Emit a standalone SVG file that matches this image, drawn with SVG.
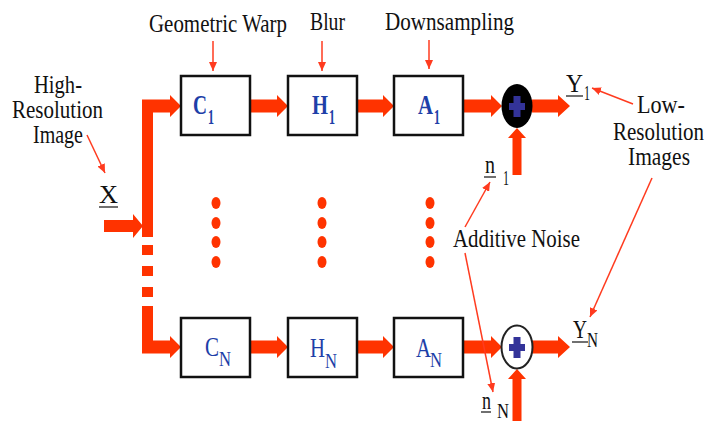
<svg xmlns="http://www.w3.org/2000/svg" width="707" height="421" viewBox="0 0 707 421" font-family="'Liberation Serif', 'DejaVu Serif', serif">
<style>
.t{font-family:'Liberation Serif','DejaVu Serif',serif;font-size:26px;fill:#111;}
.s{font-family:'Liberation Serif','DejaVu Serif',serif;font-size:20px;fill:#111;}
.b{font-family:'Liberation Serif','DejaVu Serif',serif;font-size:27px;fill:#1E3FA8;font-weight:bold;}
.bs{font-family:'Liberation Serif','DejaVu Serif',serif;font-size:22px;fill:#1E3FA8;font-weight:bold;}
.n{font-family:'Liberation Serif','DejaVu Serif',serif;font-size:27px;fill:#1E3FA8;}
.ns{font-family:'Liberation Serif','DejaVu Serif',serif;font-size:22px;fill:#1E3FA8;}
.box{fill:#fff;stroke:#111;stroke-width:2.5;}
.thick{fill:#FF3300;}
.thin{stroke:#FF3B1F;stroke-width:1.5;fill:none;marker-end:url(#ah);}
.ul{stroke:#111;stroke-width:1.2;}
.dot{fill:#FF3300;}
.plus{fill:#333399;}
</style>
<defs>
<marker id="ah" markerUnits="userSpaceOnUse" markerWidth="10" markerHeight="8" refX="9" refY="4" orient="auto">
<path d="M0,0 L9,4 L0,8 Z" fill="#FF3B1F"/>
</marker>
</defs>

<g id="connectors">
<path class="thick" d="M142,99.5 H170 V95 L181,106 L170,117 V112.5 H153 V237 H142 Z"/>
<rect class="thick" x="142" y="245" width="11" height="10"/>
<rect class="thick" x="142" y="266" width="11" height="10"/>
<rect class="thick" x="142" y="287" width="11" height="10"/>
<path class="thick" d="M142,306 H153 V340.5 H170 V336 L181,347 L170,358 V353.5 H142 Z"/>
<path class="thick" d="M104,220 H133 V214 L143,226 L133,238 V232 H104 Z"/>
<path class="thick" d="M250,99.5 H277 V95 L288,106 L277,117 V112.5 H250 Z"/>
<path class="thick" d="M357,99.5 H383 V95 L394,106 L383,117 V112.5 H357 Z"/>
<path class="thick" d="M463,99.5 H491 V95 L502,106 L491,117 V112.5 H463 Z"/>
<path class="thick" d="M532,99.5 H558 V95 L570,106 L558,117 V112.5 H532 Z"/>
<path class="thick" d="M250,340.5 H277 V336 L288,347 L277,358 V353.5 H250 Z"/>
<path class="thick" d="M357,340.5 H383 V336 L394,347 L383,358 V353.5 H357 Z"/>
<path class="thick" d="M463,340.5 H491 V336 L502,347 L491,358 V353.5 H463 Z"/>
<path class="thick" d="M532,340.5 H558 V336 L570,347 L558,358 V353.5 H532 Z"/>
<path class="thick" d="M512.5,175 V138 H508 L517,128 L526,138 H521.5 V175 Z"/>
<path class="thick" d="M512.5,421 V379 H508 L517,369 L526,379 H521.5 V421 Z"/>
<line class="thin" x1="213" y1="41" x2="213" y2="71"/>
<line class="thin" x1="322" y1="41" x2="322" y2="71"/>
<line class="thin" x1="429" y1="40" x2="429" y2="69"/>
<line class="thin" x1="87" y1="135" x2="105" y2="173"/>
<line class="thin" x1="633" y1="104" x2="592" y2="88"/>
<line class="thin" x1="652" y1="178" x2="590" y2="317"/>
<line class="thin" x1="465" y1="227" x2="490" y2="182"/>
<line class="thin" x1="465" y1="253" x2="493" y2="392"/>
</g>

<g id="dots">
<ellipse class="dot" cx="216" cy="203" rx="4.5" ry="6"/>
<ellipse class="dot" cx="216" cy="223" rx="4.5" ry="6"/>
<ellipse class="dot" cx="216" cy="242" rx="4.5" ry="6"/>
<ellipse class="dot" cx="216" cy="262" rx="4.5" ry="6"/>
<ellipse class="dot" cx="322" cy="203" rx="4.5" ry="6"/>
<ellipse class="dot" cx="322" cy="223" rx="4.5" ry="6"/>
<ellipse class="dot" cx="322" cy="242" rx="4.5" ry="6"/>
<ellipse class="dot" cx="322" cy="262" rx="4.5" ry="6"/>
<ellipse class="dot" cx="430" cy="203" rx="4.5" ry="6"/>
<ellipse class="dot" cx="430" cy="223" rx="4.5" ry="6"/>
<ellipse class="dot" cx="430" cy="242" rx="4.5" ry="6"/>
<ellipse class="dot" cx="430" cy="262" rx="4.5" ry="6"/>
</g>

<g id="C1"><rect class="box" x="181" y="76" width="69" height="59"/>
<text class="b" x="193" y="114" textLength="14" lengthAdjust="spacingAndGlyphs">C</text>
<text class="bs" x="208" y="124" textLength="6" lengthAdjust="spacingAndGlyphs">1</text></g>
<g id="H1"><rect class="box" x="288" y="76" width="69" height="59"/>
<text class="b" x="312" y="114" textLength="16" lengthAdjust="spacingAndGlyphs">H</text>
<text class="bs" x="329" y="124" textLength="6" lengthAdjust="spacingAndGlyphs">1</text></g>
<g id="A1"><rect class="box" x="394" y="76" width="69" height="59"/>
<text class="b" x="418" y="114" textLength="15" lengthAdjust="spacingAndGlyphs">A</text>
<text class="bs" x="434" y="124" textLength="6" lengthAdjust="spacingAndGlyphs">1</text></g>
<g id="S1"><ellipse cx="517" cy="106" rx="15.5" ry="22" fill="#000"/>
<rect class="plus" x="513.5" y="96" width="7" height="21"/>
<rect class="plus" x="509" y="103" width="16" height="7"/></g>

<g id="CN"><rect class="box" x="181" y="318" width="69" height="59"/>
<text class="n" x="205" y="356" textLength="14" lengthAdjust="spacingAndGlyphs">C</text>
<text class="ns" x="219" y="366" textLength="12" lengthAdjust="spacingAndGlyphs">N</text></g>
<g id="HN"><rect class="box" x="288" y="318" width="69" height="59"/>
<text class="n" x="310" y="357" textLength="15" lengthAdjust="spacingAndGlyphs">H</text>
<text class="ns" x="325" y="368" textLength="12" lengthAdjust="spacingAndGlyphs">N</text></g>
<g id="AN"><rect class="box" x="394" y="318" width="69" height="59"/>
<text class="n" x="416" y="357" textLength="15" lengthAdjust="spacingAndGlyphs">A</text>
<text class="ns" x="430" y="367" textLength="12" lengthAdjust="spacingAndGlyphs">N</text></g>
<g id="SN"><ellipse cx="517" cy="347" rx="15.5" ry="21.5" fill="#fff" stroke="#222" stroke-width="2"/>
<rect class="plus" x="513.5" y="337" width="7" height="21"/>
<rect class="plus" x="509" y="344" width="16" height="7"/></g>

<g id="labels">
<text class="t" x="149" y="32" textLength="138" lengthAdjust="spacingAndGlyphs">Geometric Warp</text>
<text class="t" x="310" y="30" textLength="35" lengthAdjust="spacingAndGlyphs">Blur</text>
<text class="t" x="385" y="30" textLength="129" lengthAdjust="spacingAndGlyphs">Downsampling</text>
<text class="t" x="34" y="93" textLength="48" lengthAdjust="spacingAndGlyphs">High-</text>
<text class="t" x="12" y="118" textLength="91" lengthAdjust="spacingAndGlyphs">Resolution</text>
<text class="t" x="33" y="143" textLength="50" lengthAdjust="spacingAndGlyphs">Image</text>
<text class="t" x="637" y="113" textLength="48" lengthAdjust="spacingAndGlyphs">Low-</text>
<text class="t" x="613" y="140" textLength="91" lengthAdjust="spacingAndGlyphs">Resolution</text>
<text class="t" x="628" y="165" textLength="62" lengthAdjust="spacingAndGlyphs">Images</text>
<text class="t" x="453" y="247" textLength="127" lengthAdjust="spacingAndGlyphs">Additive Noise</text>
<text class="t" x="99" y="203" textLength="19" lengthAdjust="spacingAndGlyphs">X</text>
<line class="ul" x1="99" y1="207" x2="118" y2="207"/>
<text class="t" x="566" y="92" textLength="17" lengthAdjust="spacingAndGlyphs">Y</text>
<line class="ul" x1="566" y1="96" x2="583" y2="96"/>
<text class="s" x="584" y="100" textLength="6" lengthAdjust="spacingAndGlyphs">1</text>
<text class="t" x="573" y="338" textLength="14" lengthAdjust="spacingAndGlyphs">Y</text>
<line class="ul" x1="572" y1="342" x2="588" y2="342"/>
<text class="s" x="587" y="347" textLength="11" lengthAdjust="spacingAndGlyphs">N</text>
<text class="t" x="485" y="173" textLength="10" lengthAdjust="spacingAndGlyphs">n</text>
<line class="ul" x1="484" y1="177" x2="496" y2="177"/>
<text class="s" x="503" y="185" textLength="6" lengthAdjust="spacingAndGlyphs">1</text>
<text class="t" x="482" y="409" textLength="9" lengthAdjust="spacingAndGlyphs">n</text>
<line class="ul" x1="481" y1="412" x2="491" y2="412"/>
<text class="s" x="497" y="418" textLength="12" lengthAdjust="spacingAndGlyphs">N</text>
</g>
</svg>
